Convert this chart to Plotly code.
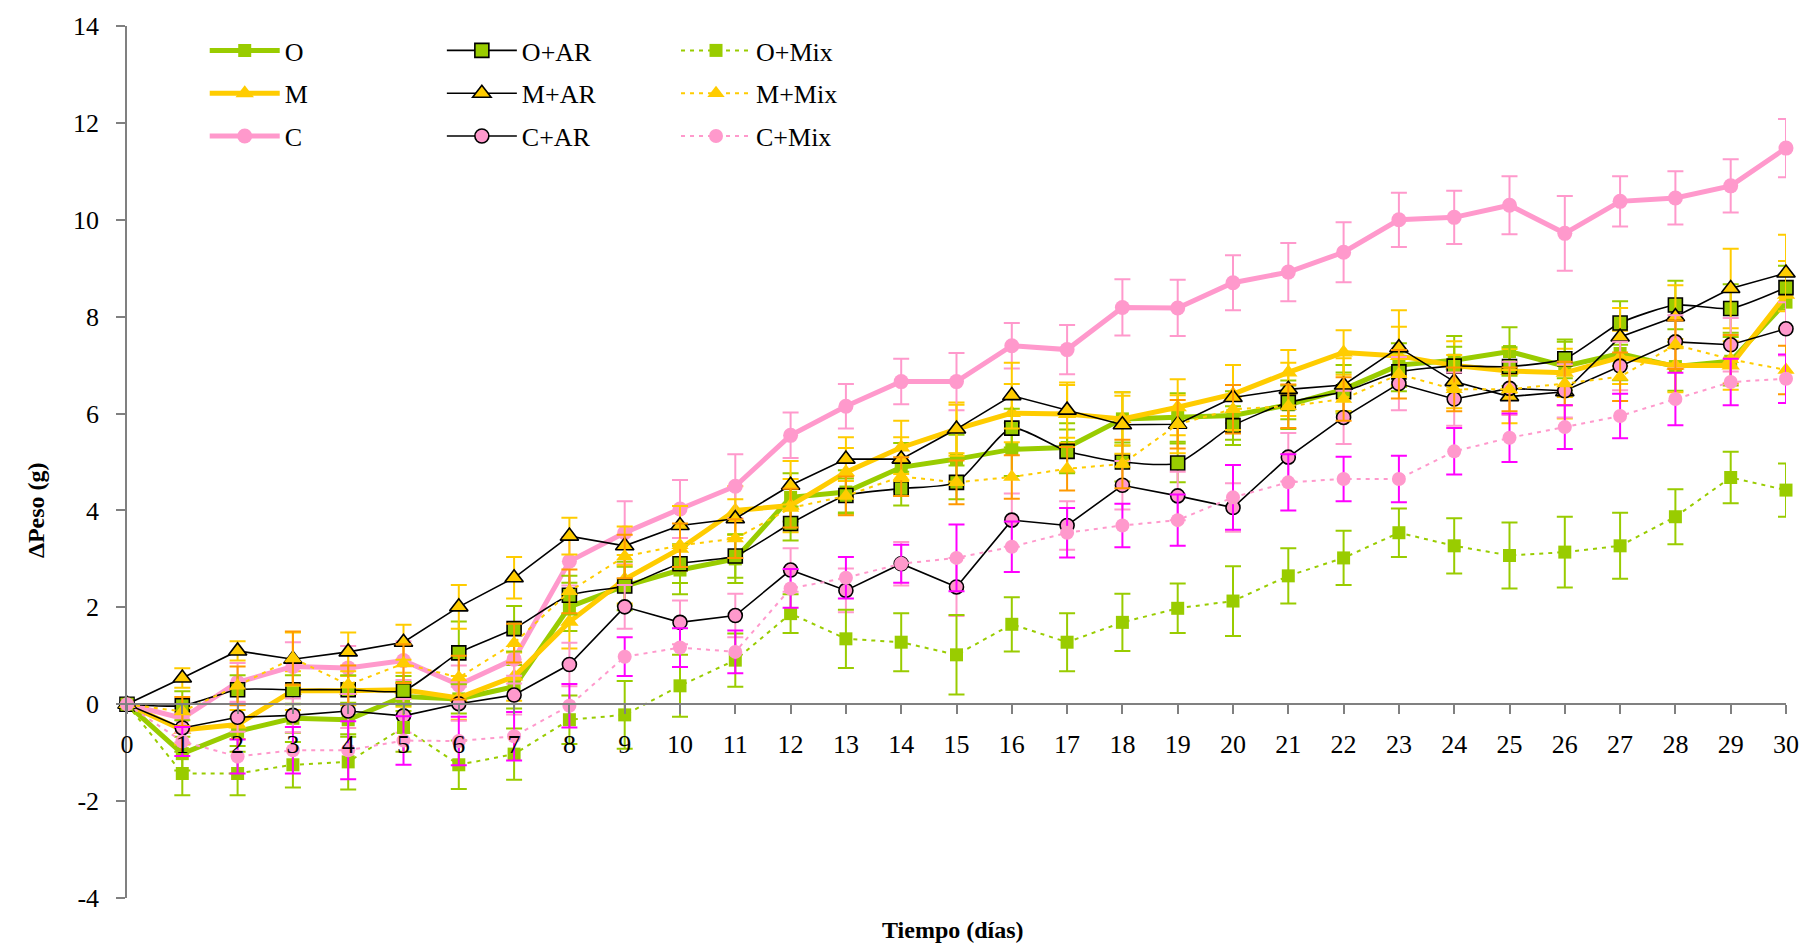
import plotly.graph_objects as go

# Días de ensayo
dias = list(range(31))

# Variación de peso media (g) por tratamiento
o_vals = [0, -1.02, -0.56, -0.29, -0.32, 0.16, 0.11, 0.36, 2.01, 2.44, 2.77, 3.0, 4.27, 4.38, 4.89, 5.06,
          5.26, 5.3, 5.89, 5.92, 5.96, 6.18, 6.5, 7.0, 7.1, 7.28, 6.98, 7.24, 6.97, 7.08, 8.3]
m_vals = [0, -0.53, -0.42, 0.28, 0.28, 0.3, 0.13, 0.57, 1.7, 2.58, 3.21, 4.0, 4.1, 4.79, 5.3, 5.68,
          6.01, 5.99, 5.89, 6.13, 6.4, 6.85, 7.26, 7.19, 6.99, 6.88, 6.84, 7.16, 6.99, 6.99, 8.45]
c_vals = [0, -0.29, 0.45, 0.78, 0.75, 0.9, 0.4, 0.93, 2.95, 3.54, 4.03, 4.5, 5.55, 6.15, 6.66, 6.66,
          7.4, 7.32, 8.19, 8.18, 8.7, 8.92, 9.33, 10.0, 10.05, 10.3, 9.72, 10.38, 10.45, 10.7, 11.48]
o_ar_vals = [0, -0.03, 0.3, 0.3, 0.3, 0.28, 1.06, 1.56, 2.25, 2.44, 2.9, 3.06, 3.73, 4.31, 4.45, 4.58,
             5.7, 5.22, 5.0, 4.98, 5.75, 6.23, 6.45, 6.86, 6.98, 6.97, 7.13, 7.87, 8.24, 8.17, 8.6]
m_ar_vals = [0, 0.54, 1.1, 0.93, 1.08, 1.28, 2.01, 2.61, 3.47, 3.27, 3.69, 3.83, 4.52, 5.06, 5.06, 5.68,
             6.37, 6.07, 5.77, 5.78, 6.33, 6.5, 6.59, 7.36, 6.66, 6.35, 6.45, 7.58, 8.0, 8.58, 8.9]
c_ar_vals = [0, -0.49, -0.27, -0.23, -0.14, -0.24, 0.01, 0.19, 0.82, 2.01, 1.69, 1.83, 2.77, 2.35, 2.9, 2.42,
             3.8, 3.69, 4.52, 4.3, 4.06, 5.1, 5.92, 6.62, 6.3, 6.52, 6.47, 6.98, 7.48, 7.42, 7.75]
o_mix_vals = [0, -1.43, -1.43, -1.25, -1.19, -0.48, -1.25, -1.03, -0.32, -0.22, 0.38, 0.91, 1.87, 1.35, 1.28, 1.02,
              1.65, 1.28, 1.69, 1.98, 2.13, 2.65, 3.02, 3.54, 3.27, 3.07, 3.14, 3.27, 3.87, 4.68, 4.42]
m_mix_vals = [0, -0.15, 0.38, 0.95, 0.4, 0.84, 0.55, 1.26, 2.33, 3.05, 3.28, 3.42, 4.05, 4.3, 4.7, 4.58,
              4.69, 4.86, 4.96, 5.78, 6.09, 6.15, 6.3, 6.81, 6.5, 6.5, 6.62, 6.76, 7.42, 7.12, 6.9]
c_mix_vals = [0, -0.77, -1.08, -0.95, -0.95, -0.75, -0.76, -0.66, -0.03, 0.98, 1.17, 1.08, 2.39, 2.61, 2.9, 3.02,
              3.25, 3.54, 3.69, 3.8, 4.27, 4.58, 4.65, 4.65, 5.22, 5.5, 5.72, 5.95, 6.3, 6.65, 6.72]

# Error estándar (g)
o_err = [0, 0.35, 0.3, 0.3, 0.35, 0.3, 0.3, 0.45, 0.5, 0.5, 0.5, 0.5, 0.5, 0.45, 0.5, 0.5,
         0.55, 0.5, 0.55, 0.5, 0.5, 0.5, 0.5, 0.45, 0.5, 0.5, 0.5, 0.55, 0.5, 0.5, 0.55]
m_err = [0, 0.3, 0.3, 0.4, 0.3, 0.35, 0.45, 0.5, 0.55, 0.5, 0.45, 0.5, 0.55, 0.5, 0.55, 0.55,
         0.6, 0.6, 0.55, 0.58, 0.6, 0.46, 0.46, 0.6, 0.5, 0.45, 0.5, 0.55, 0.55, 0.5, 0.7]
c_err = [0, 0.3, 0.4, 0.5, 0.45, 0.4, 0.4, 0.5, 0.5, 0.65, 0.6, 0.66, 0.47, 0.46, 0.47, 0.59,
         0.47, 0.51, 0.58, 0.58, 0.57, 0.6, 0.62, 0.56, 0.55, 0.6, 0.77, 0.52, 0.55, 0.55, 0.6]
o_ar_err = [0, 0.3, 0.3, 0.3, 0.3, 0.3, 0.65, 0.47, 0.4, 0.4, 0.4, 0.45, 0.35, 0.35, 0.35, 0.35,
            0.4, 0.45, 0.4, 0.4, 0.4, 0.35, 0.4, 0.4, 0.4, 0.4, 0.4, 0.45, 0.5, 0.5, 0.45]
m_ar_err = [0, 0.2, 0.2, 0.55, 0.4, 0.36, 0.45, 0.43, 0.38, 0.4, 0.4, 0.4, 0.5, 0.45, 0.45, 0.5,
            0.68, 0.57, 0.6, 0.6, 0.67, 0.55, 0.55, 0.77, 0.55, 0.55, 0.55, 0.6, 0.65, 0.82, 0.79]
c_ar_err = [0, 0.3, 0.3, 0.35, 0.35, 0.35, 0.35, 0.4, 0.45, 0.45, 0.45, 0.45, 0.45, 0.45, 0.45, 0.6,
            0.55, 0.5, 0.5, 0.5, 0.5, 0.5, 0.55, 0.55, 0.55, 0.55, 0.55, 0.5, 0.55, 0.55, 0.55]
o_mix_err = [0, 0.45, 0.45, 0.47, 0.57, 0.5, 0.5, 0.53, 0.5, 0.7, 0.64, 0.55, 0.4, 0.6, 0.6, 0.82,
             0.56, 0.6, 0.59, 0.51, 0.72, 0.57, 0.56, 0.5, 0.57, 0.68, 0.73, 0.68, 0.57, 0.53, 0.55]
m_mix_err = [0, 0.3, 0.4, 0.55, 0.4, 0.4, 0.45, 0.4, 0.45, 0.45, 0.45, 0.4, 0.4, 0.4, 0.4, 0.45,
             0.45, 0.45, 0.5, 0.5, 0.5, 0.45, 0.45, 0.5, 0.45, 0.45, 0.45, 0.5, 0.5, 0.5, 0.5]
c_mix_err = [0, 0.3, 0.35, 0.48, 0.6, 0.5, 0.5, 0.5, 0.45, 0.4, 0.4, 0.44, 0.4, 0.43, 0.39, 0.69,
             0.52, 0.51, 0.45, 0.53, 0.67, 0.58, 0.46, 0.48, 0.48, 0.5, 0.45, 0.46, 0.54, 0.48, 0.5]

# Etiquetas de eje
x_ticks = list(range(31))
y_ticks = list(range(-4, 15, 2))

VERDE = "#99CC00"
AMARILLO = "#FFCC00"
ROSA = "#FF99CC"
MAGENTA = "#FF00FF"
NARANJA = "#FF9900"
GRIS = "#808080"
FUENTE = "Liberation Serif"

series = [
    # nombre, valores, error, color línea, ancho, trazo, símbolo, relleno, borde, tamaño, color error, leyenda, forma
    ("O", o_vals, o_err, VERDE, 5, "solid", "square", VERDE, None, 13, VERDE, "legend", "linear"),
    ("M", m_vals, m_err, AMARILLO, 5, "solid", "triangle-up", AMARILLO, None, 16, AMARILLO, "legend", "linear"),
    ("C", c_vals, c_err, ROSA, 5, "solid", "circle", ROSA, None, 15, ROSA, "legend", "linear"),
    ("O+AR", o_ar_vals, o_ar_err, "black", 1.6, "solid", "square", VERDE, "black", 14, VERDE, "legend2", "spline"),
    ("M+AR", m_ar_vals, m_ar_err, "black", 1.6, "solid", "triangle-up", AMARILLO, "black", 16, AMARILLO, "legend2", "linear"),
    ("C+AR", c_ar_vals, c_ar_err, "black", 1.6, "solid", "circle", ROSA, "black", 14, ROSA, "legend2", "linear"),
    ("O+Mix", o_mix_vals, o_mix_err, VERDE, 2, "4px,5px", "square", VERDE, None, 13, VERDE, "legend3", "linear"),
    ("M+Mix", m_mix_vals, m_mix_err, AMARILLO, 2, "4px,5px", "triangle-up", AMARILLO, None, 15, NARANJA, "legend3", "linear"),
    ("C+Mix", c_mix_vals, c_mix_err, ROSA, 2, "4px,5px", "circle", ROSA, None, 14, MAGENTA, "legend3", "linear"),
]

fig = go.Figure()
for (nombre, vals, err, lc, lw, dash, sym, fill, borde, size, ecol, leg, shape) in series:
    fig.add_trace(go.Scatter(
        x=dias, y=vals, name=nombre, mode="lines+markers",
        line=dict(color=lc, width=lw, dash=dash, shape=shape, smoothing=0.6),
        marker=dict(symbol=sym, size=size, color=fill,
                    line=dict(color=borde if borde else fill, width=1.6 if borde else 0)),
        error_y=dict(type="data", array=err, visible=True, color=ecol, thickness=2, width=8),
        legend=leg, legendgroup=nombre, cliponaxis=False,
    ))

L, R, T, B = 127, 19, 22, 49
W, H = 1811, 947
pw, ph = W - L - R, H - T - B
ymin, ymax = -4, 14

leg_common = dict(font=dict(family=FUENTE, size=26, color="black"), bgcolor="rgba(0,0,0,0)",
                  borderwidth=0, yanchor="top", xanchor="left", tracegroupgap=6, itemwidth=70,
                  orientation="v")
leg_y = (H - B - 23) / ph
fig.update_layout(
    width=W, height=H,
    margin=dict(l=L, r=R, t=T, b=B),
    paper_bgcolor="white", plot_bgcolor="white",
    font=dict(family=FUENTE, size=26, color="black"),
    showlegend=True,
    legend=dict(x=(205 - L) / pw, y=leg_y, **leg_common),
    legend2=dict(x=(443 - L) / pw, y=leg_y, **leg_common),
    legend3=dict(x=(678 - L) / pw, y=leg_y, **leg_common),
    xaxis=dict(range=[0, 30], tickvals=x_ticks, ticktext=[str(t) for t in x_ticks],
               showgrid=False, zeroline=False, showline=True, linecolor=GRIS, linewidth=1.5,
               ticks="outside", ticklen=9, tickcolor=GRIS, tickwidth=1.5, ticklabelstandoff=8,
               anchor="free", position=(0 - ymin) / (ymax - ymin),
               tickfont=dict(family=FUENTE, size=26, color="black")),
    yaxis=dict(range=[ymin, ymax], tickvals=y_ticks, ticktext=[str(t) for t in y_ticks],
               showgrid=False, zeroline=False, showline=True, linecolor=GRIS, linewidth=1.5,
               ticks="outside", ticklen=9, tickcolor=GRIS, tickwidth=1.5, ticklabelstandoff=12,
               tickfont=dict(family=FUENTE, size=26, color="black")),
    annotations=[
        dict(text="<b>ΔPeso (g)</b>", textangle=-90, xref="paper", yref="paper",
             x=(35 - L) / pw, y=(H - B - 508) / ph, showarrow=False,
             font=dict(family=FUENTE, size=24, color="black"), xanchor="center", yanchor="middle"),
        dict(text="<b>Tiempo (días)</b>", xref="paper", yref="paper",
             x=(956 - L) / pw, y=(H - B - 930) / ph, showarrow=False,
             font=dict(family=FUENTE, size=24, color="black"), xanchor="center", yanchor="middle"),
    ],
)

fig.write_html("out.html")
